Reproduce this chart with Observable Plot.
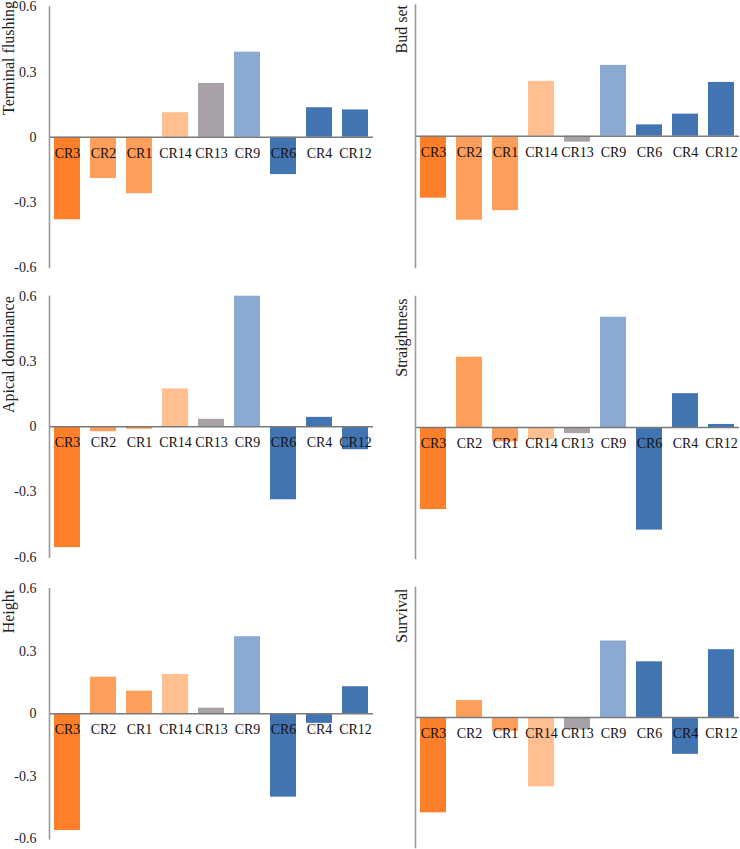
<!DOCTYPE html>
<html>
<head>
<meta charset="utf-8">
<script src="https://cdn.jsdelivr.net/npm/d3@7"></script>
<script src="https://cdn.jsdelivr.net/npm/@observablehq/plot@0.6"></script>
<style>
  html, body { margin: 0; padding: 0; background: #fff; }
  #wrap { position: relative; width: 740px; height: 849px; overflow: hidden; }
  .panel { position: absolute; }
  .panel svg { overflow: visible; }
</style>
</head>
<body>
<div id="wrap"></div>
<script>
const categories = ["CR3", "CR2", "CR1", "CR14", "CR13", "CR9", "CR6", "CR4", "CR12"];
const barColors = ["#fe7f2a", "#fe9e5c", "#fe9e5c", "#ffbf91", "#a8a1a7", "#8aaad1", "#4374b2", "#4374b2", "#4374b2"];

const terminalFlushing = [-0.38, -0.19, -0.26, 0.113, 0.248, 0.392, -0.172, 0.136, 0.126];
const budSet           = [-0.283, -0.384, -0.34, 0.251, -0.027, 0.324, 0.052, 0.101, 0.246];
const apicalDominance  = [-0.556, -0.023, -0.012, 0.174, 0.034, 0.6, -0.336, 0.043, -0.106];
const straightness     = [-0.376, 0.322, -0.066, -0.056, -0.028, 0.505, -0.47, 0.155, 0.014];
const heightValues     = [-0.56, 0.176, 0.109, 0.189, 0.027, 0.37, -0.40, -0.046, 0.13];
const survival         = [-0.44, 0.078, -0.063, -0.32, -0.057, 0.353, 0.257, -0.17, 0.313];

const traitNames = ["Terminal flushing", "Bud set", "Apical dominance", "Straightness", "Height", "Survival"];
const yTicks = [-0.6, -0.3, 0, 0.3, 0.6];
const yTickLabels = ["-0.6", "-0.3", "0", "0.3", "0.6"];

const series = [terminalFlushing, budSet, apicalDominance, straightness, heightValues, survival];

const FONT = "Liberation Serif, Tinos, Times New Roman, DejaVu Serif, serif";

// layout of each panel (page pixels)
const layouts = [
  {left: 0,   top: 0,   width: 375, height: 275, ml: 49, mr: 2, mt: 6.5,  mb: 8,   ticks: true,  titleDx: -47, titleDy: -6},
  {left: 370, top: 0,   width: 370, height: 275, ml: 45, mr: 1, mt: 4.5,  mb: 8,   ticks: false, titleDx: -20, titleDy: 0},
  {left: 0,   top: 280, width: 375, height: 285, ml: 49, mr: 2, mt: 15.7, mb: 8.3, ticks: true,  titleDx: -47, titleDy: 0},
  {left: 370, top: 280, width: 370, height: 285, ml: 45, mr: 1, mt: 16,   mb: 7,   ticks: false, titleDx: -20, titleDy: 2},
  {left: 0,   top: 570, width: 375, height: 279, ml: 49, mr: 2, mt: 18.3, mb: 10.7,ticks: true,  titleDx: -47, titleDy: 1},
  {left: 370, top: 570, width: 370, height: 279, ml: 45, mr: 1, mt: 17,   mb: 2,   ticks: false, titleDx: -20, titleDy: 1}
];

const wrap = document.getElementById("wrap");

series.forEach((vals, k) => {
  const L = layouts[k];
  const data = categories.map((c, i) => ({cat: c, v: vals[i]}));
  const marks = [
    Plot.barY(data, {x: "cat", y: "v", fill: "cat"}),
    Plot.ruleY([0], {stroke: "#7a7a7a", strokeWidth: 1.4}),
    Plot.frame({anchor: "left", stroke: "#9a9a9a", strokeWidth: 1.6}),
    Plot.text(data, {x: "cat", y: () => 0, text: "cat", dy: 16, fill: "#111", fontSize: 14, fontFamily: FONT}),
    Plot.text([traitNames[k]], {frameAnchor: "top-left", rotate: -90, textAnchor: "end", dx: L.titleDx, dy: L.titleDy, fontSize: 16, fill: "#222", fontFamily: FONT})
  ];
  if (L.ticks) {
    marks.push(Plot.axisY(yTicks, {tickSize: 0, tickPadding: 13, tickFormat: (d) => yTickLabels[yTicks.indexOf(d)], fontSize: 14, label: null, fill: "#222", fontFamily: FONT}));
  }
  const chart = Plot.plot({
    width: L.width,
    height: L.height,
    marginLeft: L.ml,
    marginRight: L.mr,
    marginTop: L.mt,
    marginBottom: L.mb,
    style: {fontFamily: FONT, fontSize: "14px", background: "transparent", color: "#222", overflow: "visible"},
    x: {domain: categories, axis: null, paddingInner: 0.28, paddingOuter: 0.14},
    y: {domain: [-0.6, 0.6], axis: null},
    color: {domain: categories, range: barColors},
    marks
  });
  chart.style.fontFamily = FONT;
  const div = document.createElement("div");
  div.className = "panel";
  div.style.left = L.left + "px";
  div.style.top = L.top + "px";
  div.appendChild(chart);
  wrap.appendChild(div);
});
</script>
</body>
</html>
